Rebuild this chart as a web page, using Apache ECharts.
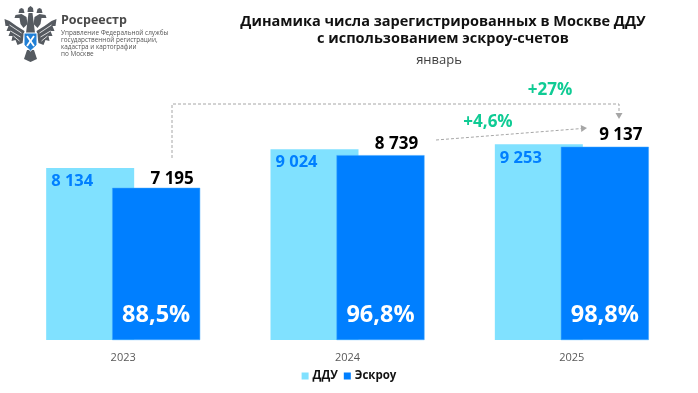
<!DOCTYPE html>
<html><head><meta charset="utf-8">
<style>html,body{margin:0;padding:0;background:#fff}#c{width:698px;height:393px}</style>
<script src="https://cdn.jsdelivr.net/npm/echarts@6/dist/echarts.min.js"></script>
</head><body><div id="c"></div>
<script>
const years = ['2023','2024','2025'];
const dduValues = [8134,9024,9253];
const escrowValues = [7195,8739,9137];
const escrowShare = ['88,5%','96,8%','98,8%'];
const titleLines = ['Динамика числа зарегистрированных в Москве ДДУ','с использованием эскроу-счетов'];
const subtitle = 'январь';
const orgLines = ['Управление Федеральной службы','государственной регистрации,','кадастра и картографии','по Москве'];
const growthYear = '+4,6%';
const growthTotal = '+27%';

const FONT = '"Open Sans", sans-serif';
const LIGHT = '#80e1ff', DARK = '#007fff', GREEN = '#0fcb94', GRAY = '#a6a6a6';
const fmt = v => String(v).replace(/\B(?=(\d{3})+$)/g,' ');
const dark = '#555a60';
const CX = 30.5;
const side = (s, pts) => pts.map(p=>[CX+s*p[0],p[1]]);
const wingPts = [[6,31],[14,26],[21,21],[26,19],[25,26],[22,26],[24,31],[20,31],[22,36],[18,36],[19,41],[15,40],[13,45],[8,43],[7,37]];
const headPts = [[3,24],[4,17],[9,14],[15,15],[16,18],[11,18],[10,24],[7,28]];
const crownPts = [[6,13],[7,9],[9,8],[11,9],[12,13]];
const feather = s => [[[9,33],[21,25]],[[10,37],[20,31]],[[11,41],[17,36]]].map(l=>({type:'line',shape:{x1:CX+s*l[0][0],y1:l[0][1],x2:CX+s*l[1][0],y2:l[1][1]},style:{stroke:'#fff',lineWidth:0.8}}));

const chart = echarts.init(document.getElementById('c'), null, {renderer:'canvas'});
const dashed = {stroke:GRAY, lineWidth:1, lineDash:[3,2]};
const arrow = (x,y,rot) => ({type:'polygon', x, y, rotation:rot, shape:{points:[[-3.5,-6],[3.5,-6],[0,0]]}, style:{fill:GRAY}});
chart.setOption({
  animation:false,
  textStyle:{fontFamily:FONT},
  grid:{left:11,right:14,top:86.2,height:253.8,containLabel:false},
  xAxis:[
    {type:'category',data:years,axisLine:{show:false},axisTick:{show:false},
     axisLabel:{color:'#595959',fontSize:11,margin:12,fontFamily:FONT}},
    {type:'category',data:years,show:false}
  ],
  yAxis:{type:'value',min:0,max:12000,show:false,splitLine:{show:false}},
  legend:{data:[{name:'ДДУ',itemStyle:{borderWidth:0}},{name:'Эскроу',itemStyle:{borderWidth:0}}],left:'center',top:365,itemWidth:7,itemHeight:7,itemGap:6,icon:'rect',
    textStyle:{color:'#111',fontSize:11.5,fontWeight:'bold',fontFamily:FONT,padding:[0,0,0,-1]}},
  series:[
    {name:'ДДУ',type:'bar',data:dduValues,barWidth:88,barGap:'-25%',
     itemStyle:{color:LIGHT},
     label:{show:true,position:'insideTopLeft',distance:5,color:DARK,fontSize:16.5,fontWeight:'bold',fontFamily:FONT,formatter:p=>fmt(p.value)}},
    {name:'Эскроу',type:'bar',barWidth:88,
     data:escrowValues.map((v,i)=>({value:v,label:{offset:[16,i?-3:0]}})),
     itemStyle:{color:DARK,borderColor:'#3ea6ff',borderWidth:0.5},
     label:{show:true,position:'top',distance:0,color:'#000',fontSize:17,fontWeight:'bold',fontFamily:FONT,formatter:p=>fmt(p.value)}},
    {name:'_spacer',type:'bar',xAxisIndex:1,data:dduValues,barWidth:88,barGap:'-25%',itemStyle:{color:'transparent'},silent:true},
    {name:'_share',type:'bar',xAxisIndex:1,data:escrowValues,barWidth:88,itemStyle:{color:'transparent'},silent:true,
     label:{show:true,position:'insideBottom',distance:13,color:'#fff',fontSize:23.5,fontWeight:'bold',fontFamily:FONT,formatter:p=>escrowShare[p.dataIndex]}}
  ],
  graphic:[
    {type:'text',x:443,y:22,style:{text:titleLines[0],fill:'#111',font:'bold 14.5px '+FONT,textAlign:'center',textVerticalAlign:'middle'}},
    {type:'text',x:443,y:39,style:{text:titleLines[1],fill:'#111',font:'bold 14.5px '+FONT,textAlign:'center',textVerticalAlign:'middle'}},
    {type:'text',x:439,y:60,style:{text:subtitle,fill:'#404040',font:'13px '+FONT,textAlign:'center',textVerticalAlign:'middle'}},
    {type:'polyline',shape:{points:[[172,158],[172,104],[619,104],[619,114]]},style:Object.assign({fill:null},dashed)},
    arrow(619,119,0),
    {type:'line',shape:{x1:436,y1:140,x2:582,y2:128.5},style:dashed},
    {type:'polygon',x:587,y:128,rotation:Math.PI/2+0.08,shape:{points:[[-3.5,-6],[3.5,-6],[0,0]]},style:{fill:GRAY}},
    {type:'text',x:550,y:90,style:{text:growthTotal,fill:GREEN,font:'bold 17px '+FONT,textAlign:'center',textVerticalAlign:'middle'}},
    {type:'text',x:488,y:122,style:{text:growthYear,fill:GREEN,font:'bold 17px '+FONT,textAlign:'center',textVerticalAlign:'middle'}},
    ...[-1,1].flatMap(s=>[
      {type:'polygon',shape:{points:side(s,wingPts)},style:{fill:dark}},
      ...feather(s),
      {type:'polygon',shape:{points:side(s,headPts)},style:{fill:dark}},
      {type:'polygon',shape:{points:side(s,crownPts)},style:{fill:dark}}
    ]),
    {type:'polygon',shape:{points:[[28.5,13],[32.5,13],[35,33],[26,33]]},style:{fill:dark}},
    {type:'polygon',shape:{points:[[27.5,12],[28,8],[30.5,6],[33,8],[33.5,12]]},style:{fill:dark}},
    {type:'polygon',shape:{points:[[27,50],[34,50],[37,59],[30.5,62],[24,59]]},style:{fill:dark}},
    {type:'polygon',shape:{points:[[24,33],[37,33],[37,45],[30.5,51],[24,45]]},style:{fill:'#1f7fd6',stroke:'#fff',lineWidth:1}},
    {type:'line',shape:{x1:27,y1:36,x2:34,y2:46},style:{stroke:'#fff',lineWidth:1.8}},
    {type:'line',shape:{x1:34,y1:36,x2:27,y2:46},style:{stroke:'#fff',lineWidth:1.8}},
    {type:'text',x:61,y:20,style:{text:'Росреестр',fill:'#4a4a4a',font:'bold 12.5px '+FONT,textAlign:'left',textVerticalAlign:'middle'}},
    ...orgLines.map((t,i)=>({type:'text',x:61,y:33+i*7,style:{text:t,fill:'#555',font:'6.4px '+FONT,textAlign:'left',textVerticalAlign:'middle'}}))
  ]
});
</script></body></html>
